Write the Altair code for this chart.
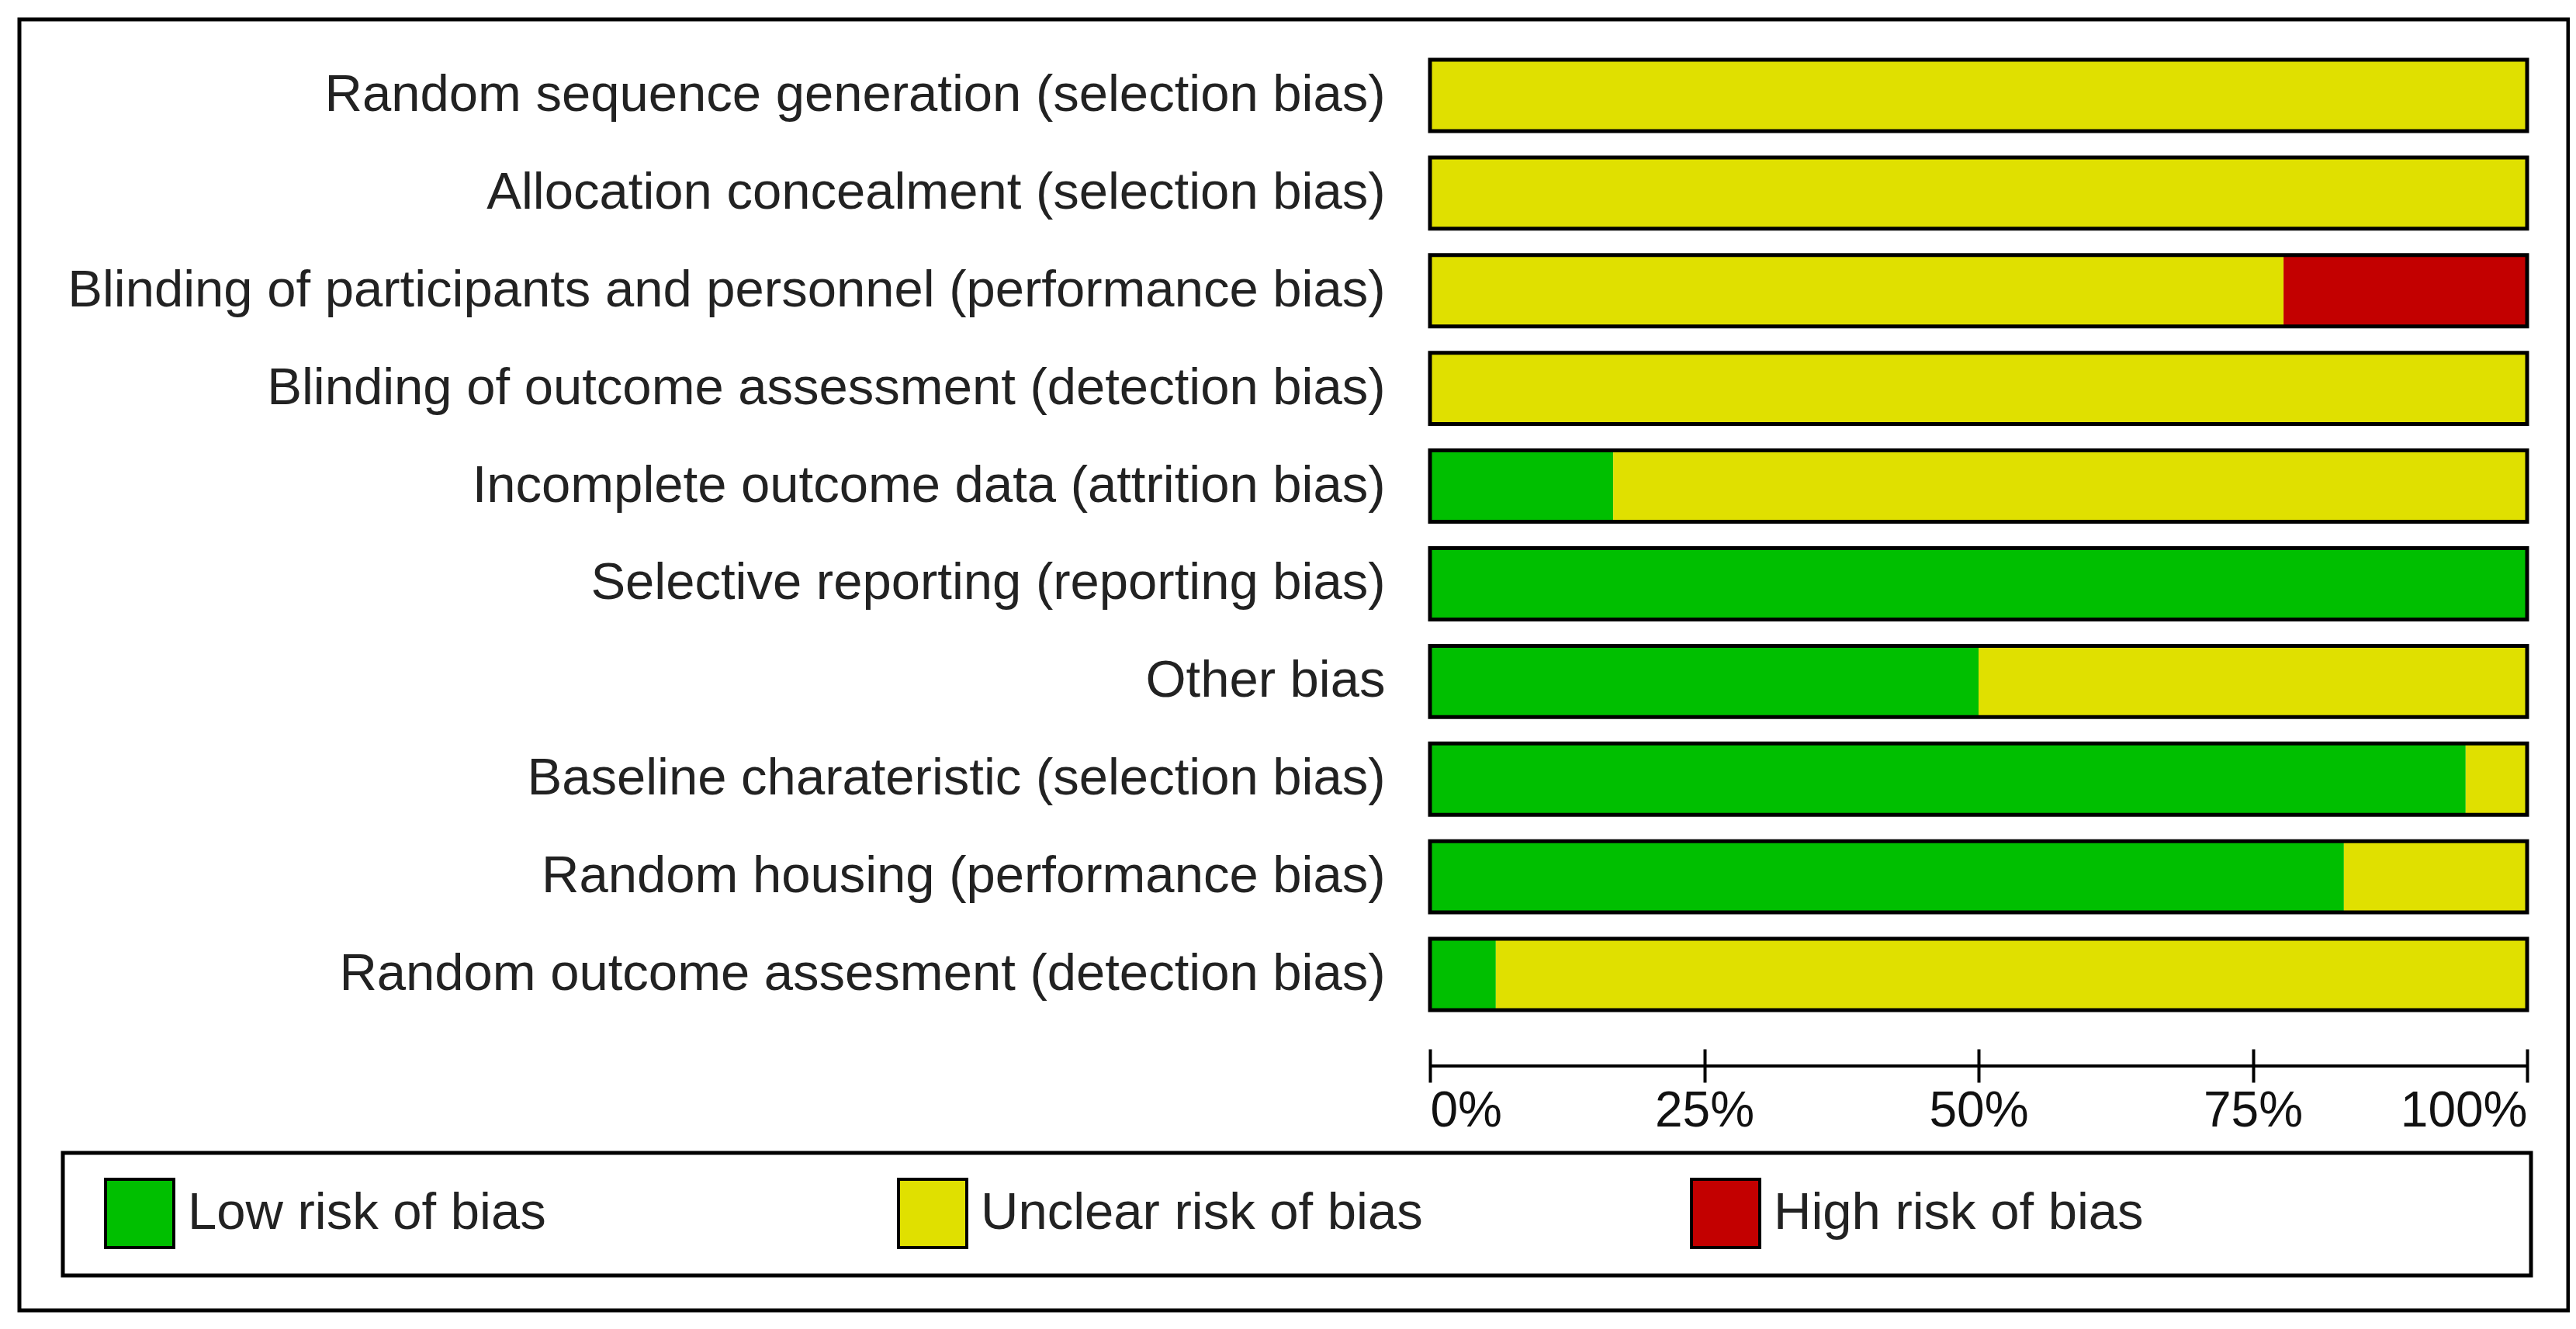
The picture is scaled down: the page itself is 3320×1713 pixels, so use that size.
import altair as alt
import pandas as pd

domains = [
    "Random sequence generation (selection bias)",
    "Allocation concealment (selection bias)",
    "Blinding of participants and personnel (performance bias)",
    "Blinding of outcome assessment (detection bias)",
    "Incomplete outcome data (attrition bias)",
    "Selective reporting (reporting bias)",
    "Other bias",
    "Baseline charateristic (selection bias)",
    "Random housing (performance bias)",
    "Random outcome assesment (detection bias)",
]
low = [0, 0, 0, 0, 16.7, 100, 50, 94.4, 83.3, 6]
unclear = [100, 100, 77.8, 100, 83.3, 0, 50, 5.6, 16.7, 94]
high = [0, 0, 22.2, 0, 0, 0, 0, 0, 0, 0]
risk_names = ["Low risk of bias", "Unclear risk of bias", "High risk of bias"]
risk_colors = ["#00BF00", "#E0E000", "#C30000"]
tick_values = [0, 25, 50, 75, 100]

rows = []
for i, d in enumerate(domains):
    for k, (name, vals) in enumerate(zip(risk_names, [low, unclear, high])):
        rows.append({"domain": d, "risk": name, "ord": k, "pct": vals[i]})
df = pd.DataFrame(rows)
outline_df = pd.DataFrame({"domain": domains, "lo": [0] * len(domains), "hi": [100] * len(domains)})
one = pd.DataFrame({"k": [0]})

FONT = "Liberation Sans"

yscale = alt.Scale(domain=domains, paddingInner=0.27, paddingOuter=0.135)
xscale = alt.Scale(domain=[0, 100], nice=False)

bars = alt.Chart(df).mark_bar(strokeWidth=0).encode(
    y=alt.Y("domain:N", scale=yscale, sort=domains,
            axis=alt.Axis(title=None, ticks=False, domain=False, labelPadding=58,
                          labelFontSize=67, labelFont=FONT, labelColor="#222222",
                          labelLimit=3000)),
    x=alt.X("pct:Q", stack="zero", scale=xscale,
            axis=alt.Axis(title=None, values=tick_values, domain=False, grid=False,
                          tickSize=43, tickWidth=4, tickColor="black", offset=33,
                          labelPadding=5, labelFontSize=64, labelFont=FONT,
                          labelColor="#111111", labelExpr="datum.value + '%'")),
    color=alt.Color("risk:N", scale=alt.Scale(domain=risk_names, range=risk_colors),
                    legend=alt.Legend(title=None, orient="none", legendX=-1709, legendY=1458,
                                      direction="horizontal", symbolType="square",
                                      symbolSize=7744, symbolStrokeColor="black",
                                      symbolStrokeWidth=4, symbolOpacity=1,
                                      labelFontSize=67, labelFont=FONT, labelColor="#222222",
                                      labelOffset=16, gridAlign="all", columnPadding=338,
                                      padding=0, labelLimit=2000)),
    order=alt.Order("ord:Q"),
)

outline = alt.Chart(outline_df).mark_bar(fill="transparent", stroke="black", strokeWidth=5).encode(
    y=alt.Y("domain:N", scale=yscale, sort=domains),
    x=alt.X("lo:Q", scale=xscale),
    x2="hi:Q",
)

axis_line = alt.Chart(one).mark_rule(color="black", strokeWidth=4).encode(
    x=alt.datum(0), x2=alt.datum(100), y=alt.value(1314)
)

legend_box = alt.Chart(one).mark_rect(fill="transparent", stroke="black", strokeWidth=5).encode(
    x=alt.value(-1762), x2=alt.value(1419), y=alt.value(1426), y2=alt.value(1584)
)
outer_box = alt.Chart(one).mark_rect(fill="transparent", stroke="black", strokeWidth=5).encode(
    x=alt.value(-1818), x2=alt.value(1467), y=alt.value(-35), y2=alt.value(1629)
)

chart = alt.layer(outer_box, legend_box, bars, outline, axis_line).properties(
    width=1414, height=1259,
    padding={"left": 1835, "top": 52, "right": 55, "bottom": 380},
    autosize=alt.AutoSizeParams(type="none"),
    background="white",
).configure_view(stroke=None)

chart.save("out.html", embed_options={"renderer": "svg", "actions": False})
